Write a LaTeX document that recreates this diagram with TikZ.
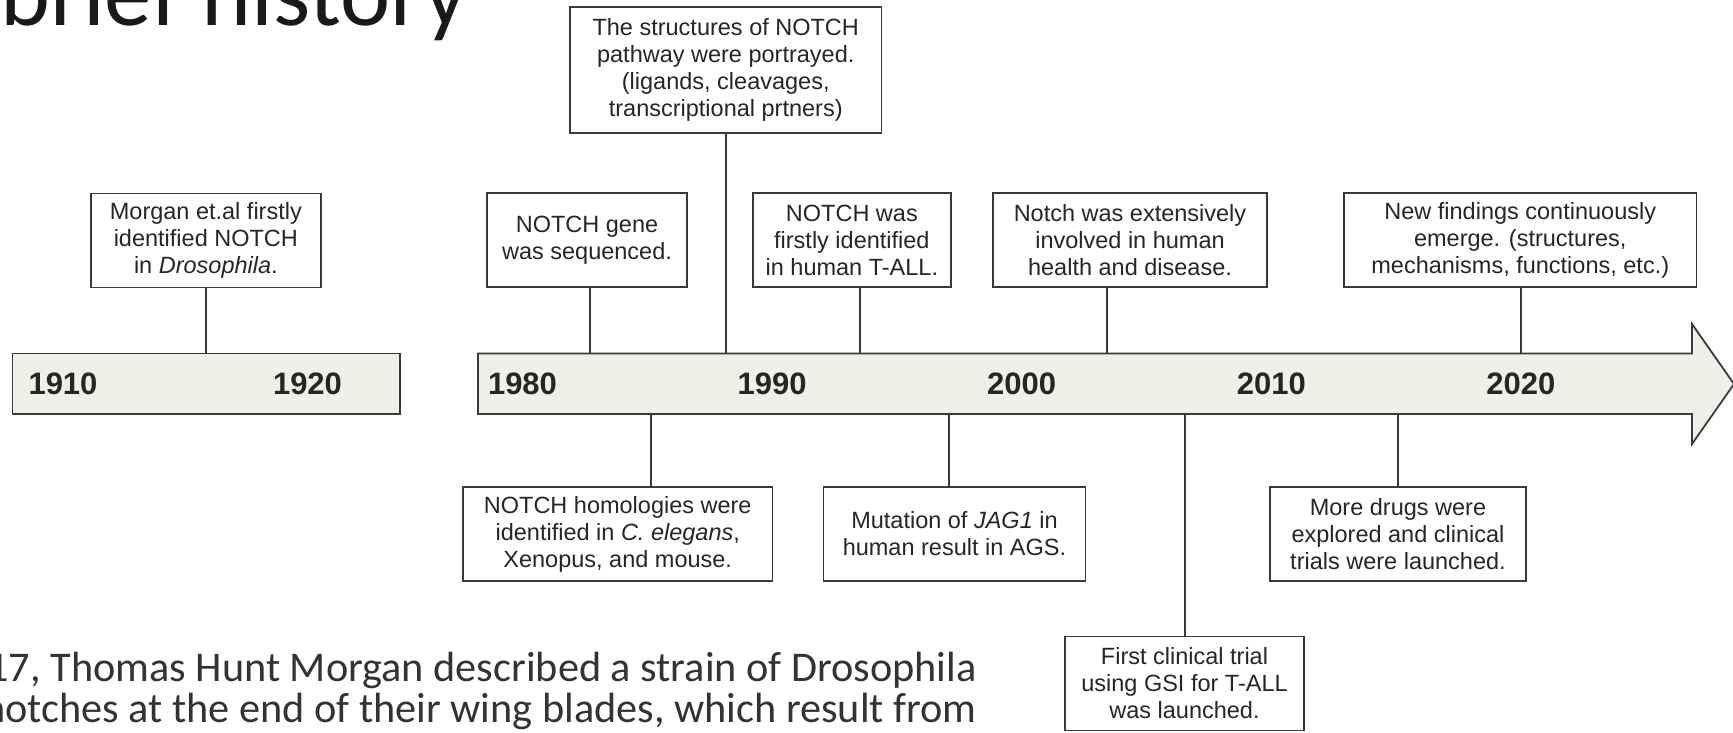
\documentclass[tikz,border=0pt]{standalone}
\usepackage{fontspec}
\setmainfont{Liberation Sans}
\newfontfamily\slidefont{Carlito}
\definecolor{barfill}{HTML}{EEF1E7}
\definecolor{boxline}{HTML}{3A3A3A}
\definecolor{txt}{HTML}{262626}
\begin{document}
\begin{tikzpicture}[x=1pt,y=-1pt,
  box/.style={draw=boxline, line width=1.8pt, fill=white, align=center, inner sep=0pt, text=txt,
              font=\fontsize{23.5}{27}\selectfont},
  conn/.style={draw=boxline, line width=2pt},
  bar/.style={draw=boxline, line width=1.8pt, fill=barfill},
  year/.style={font=\bfseries\fontsize{31}{31}\selectfont, text=txt, inner sep=0pt},
  slidetext/.style={anchor=base east, inner sep=0pt, text=black!80, font=\slidefont\fontsize{42.3}{42.3}\selectfont}]
\useasboundingbox (0,0) rectangle (1733,732);
\clip (0,0) rectangle (1733,732);
\fill[white] (0,0) rectangle (1733,732);

% title (cut at the top edge)
\node[anchor=base west, inner sep=0pt, text=black!90, font=\slidefont\fontsize{95}{95}\selectfont] (title) at (0,25) {brief history};

% connector x positions and bar edges
\coordinate (barT) at (0,353.5);
\coordinate (barB) at (0,414);
\coordinate (c1) at (205.8,0);
\coordinate (c2) at (725.5,0);
\coordinate (c3) at (590,0);
\coordinate (c4) at (859.5,0);
\coordinate (c5) at (1106.5,0);
\coordinate (c6) at (1520.5,0);
\coordinate (c7) at (651,0);
\coordinate (c8) at (948.5,0);
\coordinate (c9) at (1398,0);
\coordinate (c10) at (1184.8,0);

% boxes
\node[box, minimum width=230.3, minimum height=94] (morgan) at (205.85,240.5)
  {Morgan et.al firstly\\identified NOTCH\\in \textit{Drosophila}.};
\node[box, minimum width=311.5, minimum height=125.7] (struct) at (725.75,69.85)
  {The structures of NOTCH\\pathway were portrayed.\\(ligands, cleavages,\\transcriptional prtners)};
\node[box, minimum width=199.4, minimum height=94] (gene) at (587,240.3)
  {NOTCH gene\\was sequenced.};
\node[box, minimum width=198.3, minimum height=94] (tall) at (851.85,240.3)
  {NOTCH was\\firstly identified\\in human T-ALL.};
\node[box, minimum width=274, minimum height=94] (health) at (1130,240.3)
  {Notch was extensively\\involved in human\\health and disease.};
\node[box, minimum width=352.5, minimum height=94] (newf) at (1520.25,240.3)
  {New findings continuously\\emerge. (structures,\\mechanisms, functions, etc.)};
\node[box, minimum width=309.5, minimum height=94] (homol) at (617.75,534)
  {NOTCH homologies were\\identified in \textit{C. elegans},\\Xenopus, and mouse.};
\node[box, minimum width=262.1, minimum height=94] (jag) at (954.45,534)
  {Mutation of \textit{JAG1} in\\human result in AGS.};
\node[box, minimum width=256, minimum height=94] (drugs) at (1398,534)
  {More drugs were\\explored and clinical\\trials were launched.};
\node[box, minimum width=239, minimum height=94] (first) at (1184.5,683.5)
  {First clinical trial\\using GSI for T-ALL\\was launched.};

% connectors
\draw[conn] (morgan.south -| c1) -- (c1 |- barT);
\draw[conn] (struct.south -| c2) -- (c2 |- barT);
\draw[conn] (gene.south -| c3) -- (c3 |- barT);
\draw[conn] (tall.south -| c4) -- (c4 |- barT);
\draw[conn] (health.south -| c5) -- (c5 |- barT);
\draw[conn] (newf.south -| c6) -- (c6 |- barT);
\draw[conn] (homol.north -| c7) -- (c7 |- barB);
\draw[conn] (jag.north -| c8) -- (c8 |- barB);
\draw[conn] (drugs.north -| c9) -- (c9 |- barB);
\draw[conn] (first.north -| c10) -- (c10 |- barB);

% timeline bars
\node[bar, minimum width=387.5, minimum height=60.5, inner sep=0pt] (bar1) at (206.25,383.75) {};
\draw[bar] (478,353.5) -- (1692,353.5) -- (1692,324) -- (1734,384) -- (1692,444) -- (1692,414) -- (478,414) -- cycle;

% years
\node[year] (y1910) at (63,384) {1910};
\node[year] (y1920) at (307.5,384) {1920};
\node[year] (y1980) at (522.5,384) {1980};
\node[year] (y1990) at (772.1,384) {1990};
\node[year] (y2000) at (1021.7,384) {2000};
\node[year] (y2010) at (1271.3,384) {2010};
\node[year] (y2020) at (1520.9,384) {2020};

% slide body text (cut at the left and bottom)
\node[slidetext] (p1) at (977,681.7) {17, Thomas Hunt Morgan described a strain of Drosophila};
\node[slidetext] (p2) at (977,722) {notches at the end of their wing blades, which result from};
\end{tikzpicture}
\end{document}
